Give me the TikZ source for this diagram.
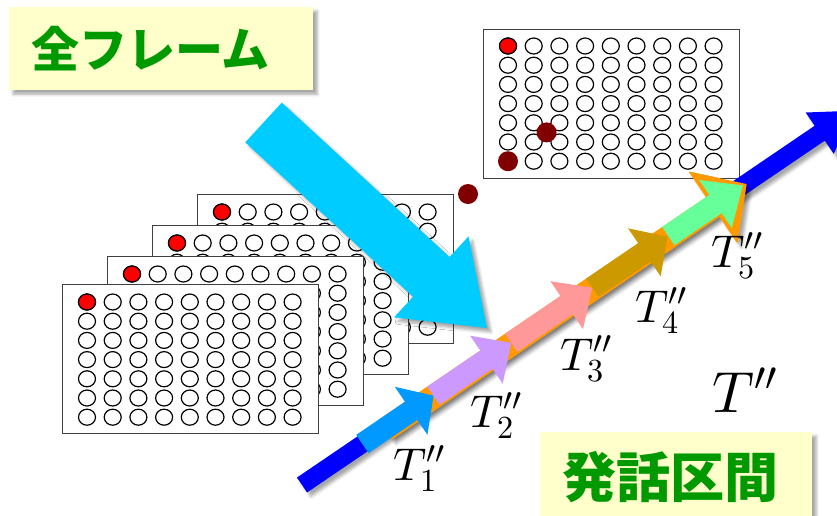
\documentclass[tikz,border=0pt]{standalone}
\usepackage{fontspec}
\newfontfamily\jpfont{Noto Sans CJK JP}
\DeclareFontShape{OML}{cmm}{m}{it}{<->cmmi10}{}
\DeclareFontShape{OMS}{cmsy}{m}{n}{<->cmsy10}{}
\DeclareFontShape{OT1}{cmr}{m}{n}{<->cmr10}{}
\usetikzlibrary{shadows.blur}
\definecolor{lblbg}{RGB}{255,255,204}
\definecolor{lblfg}{RGB}{0,153,0}
\definecolor{bigc}{RGB}{0,204,255}
\definecolor{axisc}{RGB}{0,0,255}
\definecolor{segO}{RGB}{255,153,0}
\definecolor{segA}{RGB}{0,153,255}
\definecolor{segB}{RGB}{204,153,255}
\definecolor{segC}{RGB}{255,153,153}
\definecolor{segD}{RGB}{204,153,0}
\definecolor{segE}{RGB}{102,255,153}
\definecolor{dred}{RGB}{128,0,0}

\begin{document}
\begin{tikzpicture}[
    x=1pt, y=-1pt,
    shd/.style={blur shadow={shadow xshift=4pt, shadow yshift=-4pt, shadow blur radius=3pt, shadow opacity=35}},
    lbl/.style={fill=lblbg, text=lblfg, shd, align=left, inner ysep=0pt,
                font=\jpfont\bfseries\fontsize{48pt}{50pt}\selectfont},
    frm/.style={draw=black!75, line width=1.2pt, fill=white, minimum width=256pt,
                minimum height=149pt, anchor=north west, inner sep=0pt},
    hole/.style={draw=black, line width=1.2pt, fill=white},
    tlab/.style={font=\fontsize{46pt}{50pt}\selectfont, inner sep=0pt, anchor=base west}
  ]
  \useasboundingbox (0,0) rectangle (837,515);
  \clip (0,0) rectangle (837,515);

  % stacked frames, back to front
  \foreach \fx/\fy/\fn in {197/194/f4, 152/225/f3, 107/256/f2, 62/284/f1} {
    \node[frm] (\fn) at (\fx,\fy) {};
    \foreach \c in {0,...,8}
      \foreach \r in {0,...,6}
        \draw[hole] ([shift={(25+25.7*\c,18+19.2*\r)}]\fn.north west)
          ellipse [x radius=8.5pt, y radius=8pt];
    \draw[hole, fill=red] ([shift={(25,18)}]\fn.north west) ellipse [x radius=8.5pt, y radius=8pt];
  }

  % selected frame
  \node[frm] (fr) at (483,29) {};
  \foreach \c in {0,...,8}
    \foreach \r in {0,...,6}
      \draw[hole] ([shift={(25+25.7*\c,17+19.2*\r)}]fr.north west)
        ellipse [x radius=8.5pt, y radius=8pt];
  \draw[hole, fill=red] ([shift={(25,17)}]fr.north west) ellipse [x radius=8.5pt, y radius=8pt];
  \fill[dred] ([shift={(25,17+19.2*6)}]fr.north west) circle [radius=10pt];
  \fill[dred] ([shift={(25+25.7*1.5,17+19.2*4.5)}]fr.north west) circle [radius=10pt];
  \fill[dred] (468,194) circle [radius=10pt];

  % big arrow
  \begin{scope}[shift={(263.5,122.5)}, x={(0.736pt,-0.677pt)}, y={(0.677pt,0.736pt)}]
    \fill[bigc, shd] (0,-27) -- (228,-27) -- (228,-55) -- (303.6,0)
      -- (228,55) -- (228,27) -- (0,27) -- cycle;
  \end{scope}

  % time axis with segments
  \begin{scope}[shift={(302,485)}, x={(0.827pt,0.562pt)}, y={(0.562pt,-0.827pt)}]
    \fill[axisc, shd] (0,-9) -- (626,-9) -- (626,-25) -- (666,0)
      -- (626,25) -- (626,9) -- (0,9) -- cycle;
    \fill[segO, shd] (100,-11) -- (496,-11) -- (496,-42) -- (537,1)
      -- (496,45) -- (496,13) -- (100,13) -- cycle;
    \foreach \a/\b/\e/\col in {73/132/159/segA, 159/223/253/segB, 253/320/351/segC,
                               351/414/442/segD, 443/500/533/segE}
      \fill[\col] (\a,-11) -- (\b,-11) -- (\b,-29) -- (\e,0)
        -- (\b,29) -- (\b,11) -- (\a,11) -- cycle;
  \end{scope}

  \node[tlab] (t1) at (393,480) {$T''_1$};
  \node[tlab] (t2) at (470,427) {$T''_2$};
  \node[tlab] (t3) at (560,370) {$T''_3$};
  \node[tlab] (t4) at (635,322) {$T''_4$};
  \node[tlab] (t5) at (711,267) {$T''_5$};
  \node[tlab, font=\fontsize{58pt}{62pt}\selectfont] (tt) at (712,412) {$T''$};

  \node[lbl, minimum height=83pt, text width=260pt, inner xsep=22pt, anchor=north west]
    (all) at (9,7) {全フレーム};
  \node[lbl, font=\jpfont\bfseries\fontsize{54pt}{56pt}\selectfont, minimum height=90pt,
        text width=228pt, inner xsep=22pt, anchor=north west]
    (span) at (540,432) {発話区間};
\end{tikzpicture}
\end{document}
